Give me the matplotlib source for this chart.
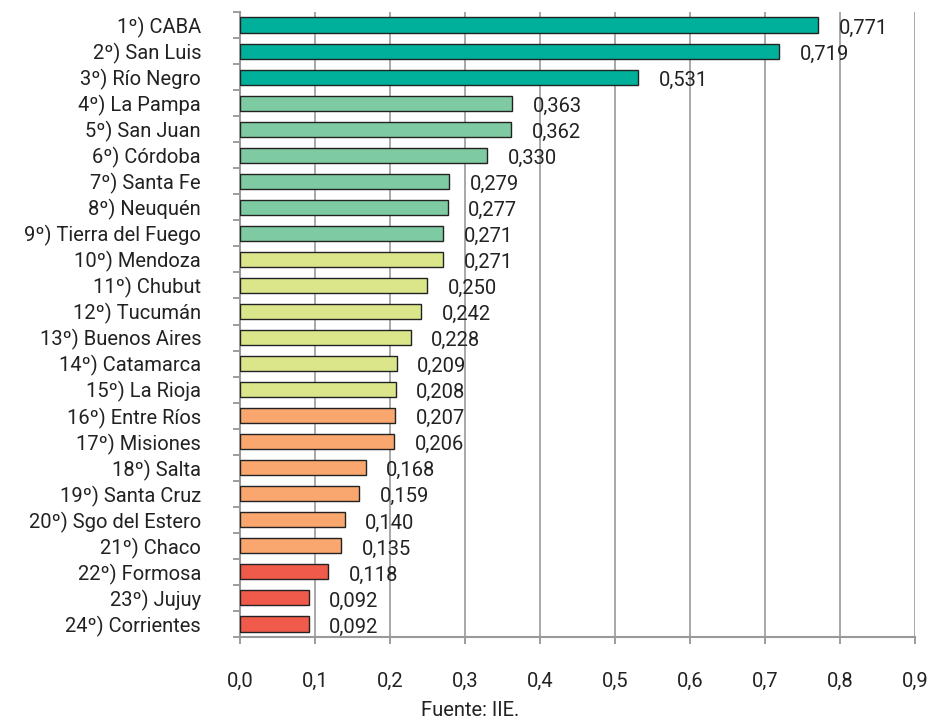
import matplotlib
matplotlib.use("Agg")
import matplotlib.pyplot as plt
import numpy as np

plt.rcParams['font.family'] = ['Roboto', 'DejaVu Sans']

provincias = ["1º) CABA", "2º) San Luis", "3º) Río Negro", "4º) La Pampa",
              "5º) San Juan", "6º) Córdoba", "7º) Santa Fe", "8º) Neuquén",
              "9º) Tierra del Fuego", "10º) Mendoza", "11º) Chubut",
              "12º) Tucumán", "13º) Buenos Aires", "14º) Catamarca",
              "15º) La Rioja", "16º) Entre Ríos", "17º) Misiones",
              "18º) Salta", "19º) Santa Cruz", "20º) Sgo del Estero",
              "21º) Chaco", "22º) Formosa", "23º) Jujuy", "24º) Corrientes"]
valores = [0.771, 0.719, 0.531, 0.363, 0.362, 0.330, 0.279, 0.277, 0.271,
           0.271, 0.250, 0.242, 0.228, 0.209, 0.208, 0.207, 0.206, 0.168,
           0.159, 0.140, 0.135, 0.118, 0.092, 0.092]
grupo = [0, 0, 0, 1, 1, 1, 1, 1, 1, 2, 2, 2, 2, 2, 2,
         3, 3, 3, 3, 3, 3, 4, 4, 4]
paleta = ["#00b09b", "#7ecba3", "#dbe68b", "#f9a66f", "#ef5a4b"]
xticks = [0.0, 0.1, 0.2, 0.3, 0.4, 0.5, 0.6, 0.7, 0.8, 0.9]

fs = 14.5
fig = plt.figure(figsize=(9.29, 7.19), dpi=100)
ax = fig.add_axes([240 / 929, 1 - 637 / 719, 675 / 929, 625 / 719])

y = np.arange(len(provincias))
colores = [paleta[g] for g in grupo]
ax.barh(y, valores, height=0.58, color=colores, edgecolor="#222222",
        linewidth=1.0, zorder=3)

for yi, v in zip(y, valores):
    ax.text(v + 0.027, yi + 0.12, f"{v:.3f}".replace(".", ","),
            va="center", ha="left", fontsize=fs, color="#222222")

ax.set_xlim(0, 0.9)
ax.set_ylim(len(provincias) - 0.5, -0.5)
ax.set_xticks(xticks)
ax.set_xticklabels([f"{t:.1f}".replace(".", ",") for t in xticks],
                   fontsize=fs, color="#222222")
ax.set_yticks(y)
ax.set_yticklabels(provincias, fontsize=fs, color="#222222")
ax.set_yticks(np.arange(len(provincias) + 1) - 0.5, minor=True)

ax.tick_params(axis="y", which="major", length=0, pad=28)
ax.tick_params(axis="y", which="minor", length=5, color="#8c8c8c", width=1.2)
ax.tick_params(axis="x", length=5, color="#8c8c8c", width=1.2, pad=20)

ax.grid(axis="x", color="#999999", linewidth=1.2, zorder=0)
for s in ["top", "right"]:
    ax.spines[s].set_visible(False)
for s in ["left", "bottom"]:
    ax.spines[s].set_color("#999999")
    ax.spines[s].set_linewidth(1.5)

fig.text(470 / 929, 1 - 710 / 719, "Fuente: IIE.", ha="center", va="center",
         fontsize=fs, color="#222222")

fig.savefig("out.png", dpi=100)
